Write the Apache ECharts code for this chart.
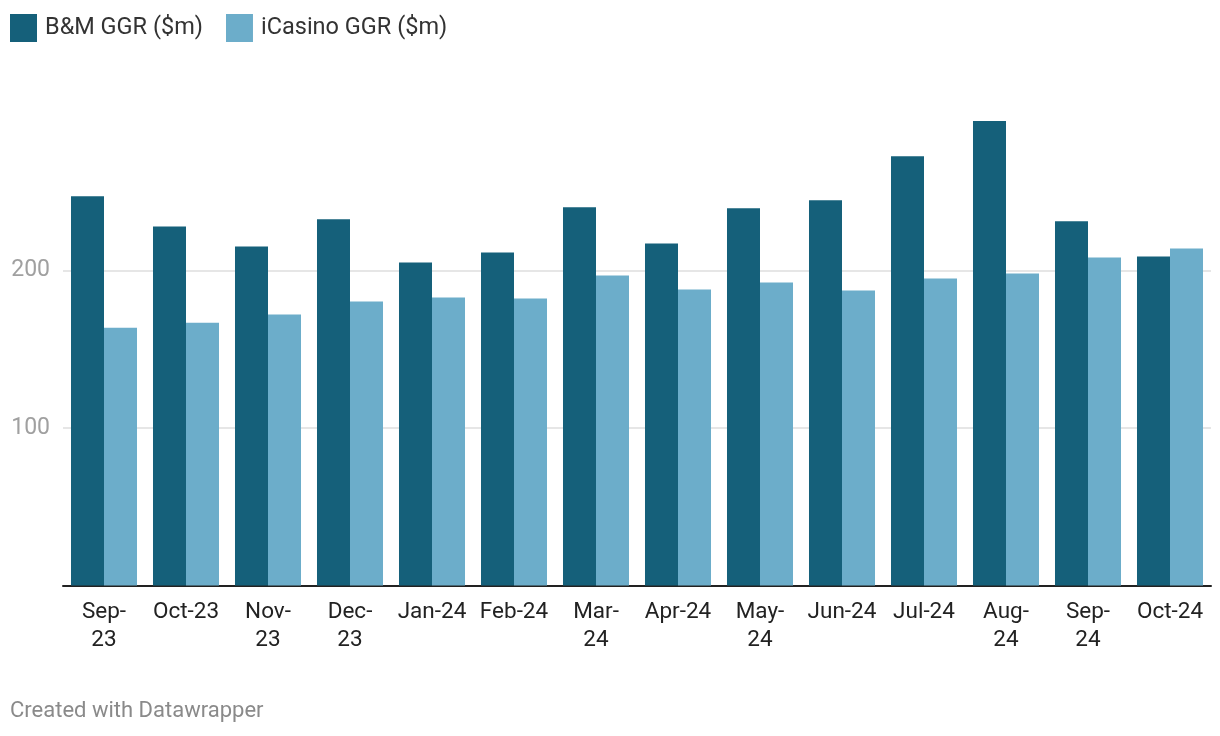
<!DOCTYPE html>
<html>
<head>
<meta charset="utf-8">
<script src="https://cdn.jsdelivr.net/npm/echarts@6/dist/echarts.min.js"></script>
<style>
html,body{margin:0;padding:0;background:#fff;}
#chart{width:1220px;height:736px;}
</style>
</head>
<body>
<div id="chart"></div>
<script>
const categories = ["Sep-23","Oct-23","Nov-23","Dec-23","Jan-24","Feb-24","Mar-24","Apr-24","May-24","Jun-24","Jul-24","Aug-24","Sep-24","Oct-24"];
const tickLabels = ["Sep-\n23","Oct-23","Nov-\n23","Dec-\n23","Jan-24","Feb-24","Mar-\n24","Apr-24","May-\n24","Jun-24","Jul-24","Aug-\n24","Sep-\n24","Oct-24"];
const bmGGR = [247.1, 228.0, 215.3, 232.5, 205.1, 211.5, 240.1, 217.2, 239.5, 244.6, 272.6, 294.9, 231.2, 208.9];
const iCasinoGGR = [163.7, 166.9, 172.0, 180.3, 182.8, 182.2, 196.8, 187.9, 192.4, 187.3, 194.9, 198.1, 208.3, 214.0];
const yTicks = [100, 200];

const chart = echarts.init(document.getElementById('chart'), null, {renderer:'canvas'});
const font = 'Roboto, "Noto Sans", sans-serif';
chart.setOption({
  animation:false,
  textStyle:{fontFamily:font},
  legend:{
    left:10, top:14, padding:0, itemWidth:27, itemHeight:28, itemGap:23, icon:'rect',
    textStyle:{fontSize:23.5, color:'#333', fontFamily:font, padding:[0,0,0,3]},
    data:['B&M GGR ($m)','iCasino GGR ($m)']
  },
  grid:{left:63, right:9, top:113, bottom:150.5, containLabel:false},
  xAxis:{
    type:'category', data:categories,
    axisLine:{lineStyle:{color:'#222', width:2}},
    axisTick:{show:false},
    axisLabel:{
      interval:0, fontSize:22.5, color:'#222', lineHeight:28, margin:13, fontFamily:font,
      formatter:(v,i)=>tickLabels[i]
    }
  },
  yAxis:{
    type:'value', min:0, max:300, interval:100,
    axisLine:{show:false}, axisTick:{show:false},
    axisLabel:{fontSize:23, color:'#a0a0a0', margin:13, fontFamily:font, showMinLabel:false, showMaxLabel:false,
      formatter:v=>yTicks.includes(v)?String(v):''},
    splitLine:{lineStyle:{color:'#e6e6e6', width:2}, showMinLine:false, showMaxLine:false}
  },
  series:[
    {name:'B&M GGR ($m)', type:'bar', data:bmGGR, barGap:'0%', barCategoryGap:'19.5%', itemStyle:{color:'#15607a'}},
    {name:'iCasino GGR ($m)', type:'bar', data:iCasinoGGR, barGap:'0%', barCategoryGap:'19.5%', itemStyle:{color:'#6cadca'}}
  ],
  graphic:[{type:'text', left:10, top:700, style:{text:'Created with Datawrapper', fontSize:22, fill:'#8a8a8a', fontFamily:font}}]
});
</script>
</body>
</html>
